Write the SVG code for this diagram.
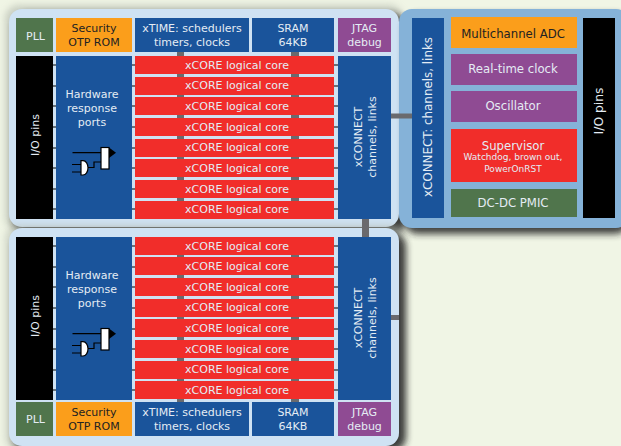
<svg xmlns="http://www.w3.org/2000/svg" width="621" height="446" viewBox="0 0 621 446">
<style>
text{font-family:"DejaVu Sans","Liberation Sans",sans-serif;font-size:11px;text-anchor:middle;fill:#e4ecf4}
.dk{fill:#222}
.sm{font-size:9px}
.lg{font-size:11.700px}
.blue{fill:#1a549b}.red{fill:#f12d2a}.org{fill:#fb9e1b}.grn{fill:#50754c}.pur{fill:#8f4b93}.blk{fill:#000}
.lnk{fill:#6a6a6e}
.tick{stroke:#000;stroke-width:1.200;fill:none}
.ic{stroke:#000;stroke-width:1.200;fill:none}
.icf{stroke:#000;stroke-width:1.200;fill:#fff}
</style>
<defs>
<filter id="sh" x="-10%" y="-10%" width="125%" height="125%"><feGaussianBlur stdDeviation="3.500"/></filter>
<g id="gate">
<path class="ic" d="M72.500 152.700H101M72 164.500H81M72 172H81M88 167.500H94V162H101"/>
<path class="icf" d="M81 160.700H83C86 160.700 88 164 88 167.800C88 171.600 86 175 83 175H81Z"/>
<rect class="icf" x="101" y="147.500" width="8" height="21.500"/>
<path d="M109 147.500L116 152.700L109 158Z" fill="#000"/>
</g>
<g id="ticks">
<path class="tick" d="M53 65h3M53 86h3M53 106h3M53 127h3M53 148h3M53 168h3M53 189h3M53 209h3M132 65h3M132 86h3M132 106h3M132 127h3M132 148h3M132 168h3M132 189h3M132 209h3M334 65h4M334 86h4M334 106h4M334 127h4M334 148h4M334 168h4M334 189h4M334 209h4"/>
</g>
</defs>
<rect width="621" height="446" fill="#f0f5e5"/>
<g id="panels">
<rect x="5" y="5" width="398" height="226" rx="14" fill="#b9bfb4" opacity=".7" filter="url(#sh)"/>
<rect x="14" y="14" width="392" height="220" rx="14" fill="#222" opacity=".85" filter="url(#sh)"/>
<rect x="9" y="9" width="390" height="218" rx="13" fill="#cfe2f3"/>
<rect x="404" y="14" width="225" height="220" rx="14" fill="#222" opacity=".85" filter="url(#sh)"/>
<rect x="399" y="9" width="230" height="219" rx="13" fill="#85b2d8"/>
<rect x="5" y="225" width="398" height="226" rx="14" fill="#b9bfb4" opacity=".6" filter="url(#sh)"/>
<rect x="14" y="233" width="392" height="218" rx="14" fill="#222" opacity=".85" filter="url(#sh)"/>
<rect x="9" y="228" width="390" height="218" rx="13" fill="#cfe2f3"/>
</g>
<g id="connectors">
<rect class="lnk" x="362" y="219" width="7" height="18"/>
<rect class="lnk" x="391" y="113.500" width="21" height="5"/>
<rect class="lnk" x="391" y="315" width="8" height="5"/>
<rect class="lnk" x="177" y="52" width="7" height="167"/>
<rect class="lnk" x="291" y="52" width="8" height="167"/>
<rect class="lnk" x="177" y="237" width="7" height="165"/>
<rect class="lnk" x="291" y="237" width="8" height="165"/>
<use href="#ticks"/>
<use href="#ticks" y="181"/>
</g>
<g id="top-pll"><rect class="grn" x="16" y="18" width="37" height="34"/><text x="35.500" y="39.500">PLL</text></g>
<g id="top-otp"><rect class="org" x="56" y="18" width="76" height="34"/><text class="dk" x="94" y="32">Security</text><text class="dk" x="94" y="46">OTP ROM</text></g>
<g id="top-xtime"><rect class="blue" x="135" y="18" width="114" height="34"/><text x="192" y="32">xTIME: schedulers</text><text x="192" y="46">timers, clocks</text></g>
<g id="top-sram"><rect class="blue" x="252" y="18" width="82" height="34"/><text x="293" y="32">SRAM</text><text x="293" y="46">64KB</text></g>
<g id="top-jtag"><rect class="pur" x="338" y="18" width="53" height="34"/><text x="364.500" y="32">JTAG</text><text x="364.500" y="46">debug</text></g>
<g id="top-io"><rect class="blk" x="16" y="56" width="37" height="163"/><text transform="translate(39 135) rotate(-90)">I/O pins</text></g>
<g id="top-hw"><rect class="blue" x="56" y="56" width="76" height="163"/><text x="92" y="98">Hardware</text><text x="92" y="112">response</text><text x="92" y="126">ports</text><use href="#gate"/></g>
<g id="top-core0"><rect class="red" x="135" y="56" width="199" height="18"/><text x="237" y="69">xCORE logical core</text></g>
<g id="top-core1"><rect class="red" x="135" y="77" width="199" height="18"/><text x="237" y="89">xCORE logical core</text></g>
<g id="top-core2"><rect class="red" x="135" y="97" width="199" height="18"/><text x="237" y="110">xCORE logical core</text></g>
<g id="top-core3"><rect class="red" x="135" y="118" width="199" height="18"/><text x="237" y="131">xCORE logical core</text></g>
<g id="top-core4"><rect class="red" x="135" y="139" width="199" height="18"/><text x="237" y="151">xCORE logical core</text></g>
<g id="top-core5"><rect class="red" x="135" y="159" width="199" height="18"/><text x="237" y="172">xCORE logical core</text></g>
<g id="top-core6"><rect class="red" x="135" y="180" width="199" height="18"/><text x="237" y="193">xCORE logical core</text></g>
<g id="top-core7"><rect class="red" x="135" y="201" width="199" height="18"/><text x="237" y="213">xCORE logical core</text></g>
<g id="top-xconnect"><rect class="blue" x="338" y="56" width="53" height="163"/><text transform="translate(362 137) rotate(-90)">xCONNECT</text><text transform="translate(376 137) rotate(-90)">channels, links</text></g>
<g id="right-xconnect"><rect class="blue" x="412" y="18" width="32" height="200"/><text class="lg" style="font-size:11.900px" transform="translate(432 117) rotate(-90)">xCONNECT: channels, links</text></g>
<g id="right-adc"><rect class="org" x="451" y="17" width="126" height="31"/><text class="dk lg" x="513" y="38">Multichannel ADC</text></g>
<g id="right-rtc"><rect class="pur" x="451" y="54" width="126" height="31"/><text class="lg" x="513" y="73">Real-time clock</text></g>
<g id="right-osc"><rect class="pur" x="451" y="91" width="126" height="31"/><text class="lg" x="513" y="109.500">Oscillator</text></g>
<g id="right-sup"><rect class="red" x="451" y="129" width="126" height="53"/><text class="lg" x="513" y="149.500">Supervisor</text><text class="sm" x="513" y="160">Watchdog, brown out,</text><text class="sm" x="513" y="172">PowerOnRST</text></g>
<g id="right-pmic"><rect class="grn" x="451" y="189" width="126" height="28"/><text class="lg" x="513" y="206.500">DC-DC PMIC</text></g>
<g id="right-io"><rect class="blk" x="583" y="18" width="32" height="200"/><text style="font-size:12.300px" transform="translate(603 111) rotate(-90)">I/O pins</text></g>
<g id="bot-io"><rect class="blk" x="16" y="237" width="37" height="163"/><text transform="translate(39 316) rotate(-90)">I/O pins</text></g>
<g id="bot-hw"><rect class="blue" x="56" y="237" width="76" height="163"/><text x="92" y="279">Hardware</text><text x="92" y="293">response</text><text x="92" y="307">ports</text><use href="#gate" y="181"/></g>
<g id="bot-core0"><rect class="red" x="135" y="237" width="199" height="18"/><text x="237" y="250">xCORE logical core</text></g>
<g id="bot-core1"><rect class="red" x="135" y="257" width="199" height="18"/><text x="237" y="270">xCORE logical core</text></g>
<g id="bot-core2"><rect class="red" x="135" y="278" width="199" height="18"/><text x="237" y="291">xCORE logical core</text></g>
<g id="bot-core3"><rect class="red" x="135" y="299" width="199" height="18"/><text x="237" y="311">xCORE logical core</text></g>
<g id="bot-core4"><rect class="red" x="135" y="319" width="199" height="18"/><text x="237" y="332">xCORE logical core</text></g>
<g id="bot-core5"><rect class="red" x="135" y="340" width="199" height="18"/><text x="237" y="353">xCORE logical core</text></g>
<g id="bot-core6"><rect class="red" x="135" y="361" width="199" height="18"/><text x="237" y="373">xCORE logical core</text></g>
<g id="bot-core7"><rect class="red" x="135" y="381" width="199" height="18"/><text x="237" y="394">xCORE logical core</text></g>
<g id="bot-xconnect"><rect class="blue" x="338" y="237" width="53" height="163"/><text transform="translate(362 318) rotate(-90)">xCONNECT</text><text transform="translate(376 318) rotate(-90)">channels, links</text></g>
<g id="bot-pll"><rect class="grn" x="16" y="402" width="37" height="34"/><text x="35.500" y="423">PLL</text></g>
<g id="bot-otp"><rect class="org" x="56" y="402" width="76" height="34"/><text class="dk" x="94" y="416">Security</text><text class="dk" x="94" y="430">OTP ROM</text></g>
<g id="bot-xtime"><rect class="blue" x="135" y="402" width="114" height="34"/><text x="192" y="416">xTIME: schedulers</text><text x="192" y="430">timers, clocks</text></g>
<g id="bot-sram"><rect class="blue" x="252" y="402" width="82" height="34"/><text x="293" y="416">SRAM</text><text x="293" y="430">64KB</text></g>
<g id="bot-jtag"><rect class="pur" x="338" y="402" width="53" height="34"/><text x="364.500" y="416">JTAG</text><text x="364.500" y="430">debug</text></g>
</svg>
